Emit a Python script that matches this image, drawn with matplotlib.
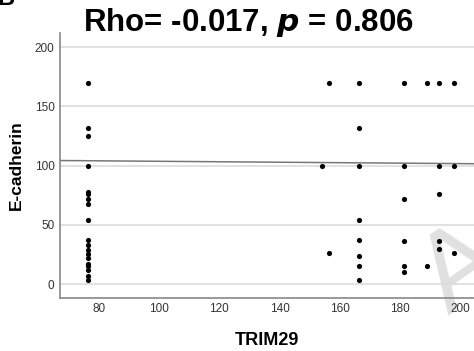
import numpy as np
import matplotlib.pyplot as plt

plt.rcParams['font.family'] = ['Liberation Sans', 'DejaVu Sans']

# TRIM29 score vs E-cadherin score, one list per TRIM29 level
trim29 = ([76.5] * 19 + [154.2] + [156.3] * 2 + [166.2] * 8 + [181.3] * 6
          + [188.8] * 2 + [192.8] * 5 + [197.9] * 3)
ecad = ([170, 132, 125, 100, 78, 76, 72, 68, 54, 37, 33, 29, 25, 22, 17, 15, 12, 7, 3]
        + [100]
        + [170, 26]
        + [170, 132, 100, 54, 37, 24, 15, 3]
        + [170, 100, 72, 36, 15, 10]
        + [170, 15]
        + [170, 100, 76, 36, 30]
        + [170, 100, 26])

# fitted line end points
fit_x = [67, 204.5]
fit_y = [104.3, 101.6]

yticks = [0, 50, 100, 150, 200]
xticks = [80, 100, 120, 140, 160, 180, 200]

fig = plt.figure(figsize=(4.74, 3.51), dpi=100)
ax = fig.add_axes([0.1266, 0.152, 0.8734, 0.754])
ax.patch.set_alpha(0)

ax.set_xlim(67.2, 204.5)
ax.set_ylim(-11.5, 212)
ax.set_yticks(yticks)
ax.set_xticks(xticks)
for y in yticks:
    ax.axhline(y, color='#dcdcdc', lw=1.2, zorder=0)

ax.plot(fit_x, fit_y, color='#777777', lw=1.1, zorder=1)
ax.scatter(trim29, ecad, s=14, color='black', zorder=3, linewidths=0)

for side in ['top', 'right']:
    ax.spines[side].set_visible(False)
for side in ['left', 'bottom']:
    ax.spines[side].set_color('#888888')
    ax.spines[side].set_linewidth(1.2)
ax.tick_params(length=0, labelsize=8.5, colors='#333333', pad=4)

ax.set_xlabel('TRIM29', fontsize=13, fontweight='bold', labelpad=12)
ax.set_ylabel('E-cadherin', fontsize=12.5, fontweight='bold', labelpad=8)

fig.text(0.525, 1 - 31 / 351, r'Rho= -0.017, $\bfit{p}$ = 0.806', ha='center',
         va='baseline', fontsize=22.5, fontweight='bold')
fig.text(-0.005, 1 - 5 / 351, 'B', ha='left', va='baseline', fontsize=17,
         fontweight='bold')

# watermark behind the plot
fig.text(0.975, 0.23, 'A', fontsize=80, color='#e0e0e0', rotation=35,
         ha='center', va='center', zorder=-1)

fig.savefig('out.png', dpi=100)
